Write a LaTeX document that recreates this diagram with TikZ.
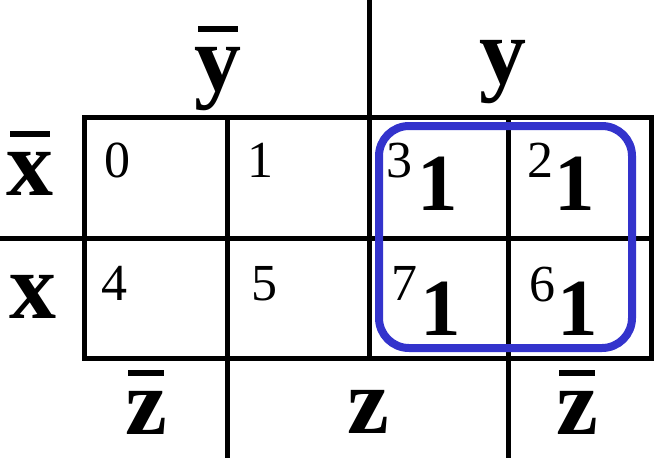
\documentclass[tikz,border=0pt]{standalone}
\usepackage{fontspec}
\setmainfont{Liberation Serif}
\definecolor{grpblue}{RGB}{51,51,204}
\newcommand\ovbar[1]{\leavevmode\setbox0\hbox{#1}\vbox{\offinterlineskip\hbox to\wd0{\hss\vrule width 0.85\wd0 height 6pt\hss}\kern 15pt\box0}}
\newcommand\bigone{{\fontsize{81pt}{81pt}\selectfont\bfseries 1}}
\begin{document}
\begin{tikzpicture}[x=1pt,y=-1pt,
 gridline/.style={line width=5pt},
 lab/.style={inner sep=0pt,anchor=base,font=\fontsize{94pt}{94pt}\selectfont\bfseries},
 cellnum/.style={inner sep=0pt,anchor=base west,font=\fontsize{52pt}{52pt}\selectfont},
 loopbox/.style={draw=grpblue,line width=8pt,rounded corners=30pt,inner sep=0pt}]
\useasboundingbox (0,0) rectangle (666,458);
% grid
\draw[gridline] (84,117) rectangle (651,358);
\draw[gridline] (227,117) -- (227,458);
\draw[gridline] (508,117) -- (508,458);
\draw[gridline] (369,0) -- (369,358);
\draw[gridline] (0,238) -- (651,238);
% cells
\node[cellnum] (m0) at (104,177) {0};
\node[cellnum] (m1) at (247,177) {1};
\node[cellnum] (m3) at (386,210) {\raisebox{33pt}{3}\kern5pt\bigone};
\node[cellnum] (m2) at (527,210) {\raisebox{33pt}{2}\kern1pt\bigone};
\node[cellnum] (m4) at (101,300) {4};
\node[cellnum] (m5) at (251,300) {5};
\node[cellnum] (m7) at (391,335) {\raisebox{35pt}{7}\kern3pt\bigone};
\node[cellnum] (m6) at (529,335) {\raisebox{34pt}{6}\kern2pt\bigone};
% group
\node[loopbox, minimum width=253pt, minimum height=222pt] (grp) at (505.5,237) {};
% labels
\node[lab] (ybar) at (218,90) {\ovbar{y}};
\node[lab] (ylab) at (503,83) {y};
\node[lab] (xbar) at (30,195) {\ovbar{x}};
\node[lab] (xlab) at (33,318) {x};
\node[lab] (zbar1) at (146,434) {\ovbar{z}};
\node[lab] (zlab) at (368,433) {z};
\node[lab] (zbar2) at (577,434) {\ovbar{z}};
\end{tikzpicture}
\end{document}
